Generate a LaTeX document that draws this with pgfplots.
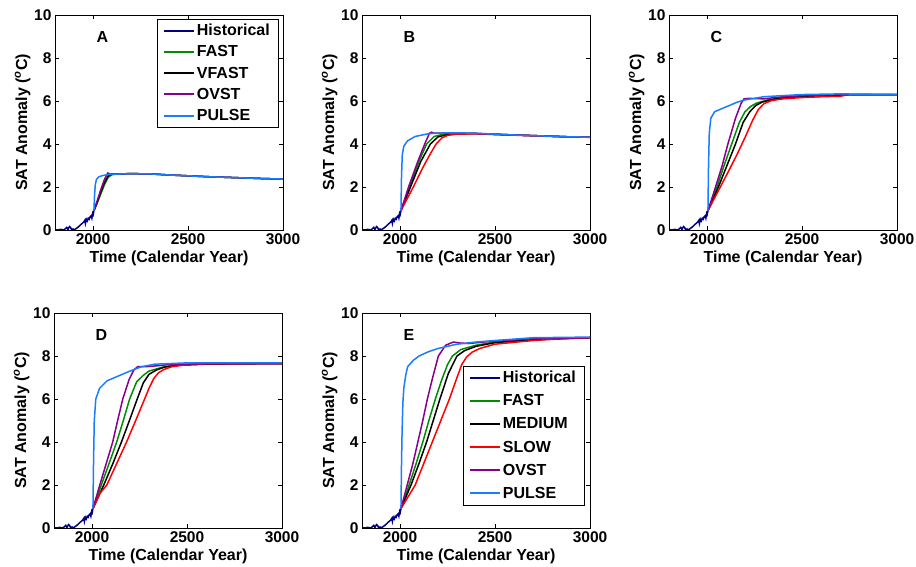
\documentclass[border=0pt]{standalone}
\usepackage{pgfplots}
\pgfplotsset{compat=1.18}
\usepackage{fontspec}
\setmainfont{Liberation Sans}

\definecolor{histc}{RGB}{0,0,130}
\definecolor{fastc}{RGB}{0,140,0}
\definecolor{ovstc}{RGB}{135,0,140}
\definecolor{pulsec}{RGB}{25,125,255}

\pgfplotsset{
  panel/.style={
    width=228bp, height=215bp, scale only axis,
    xmin=1800, xmax=3000, ymin=0, ymax=10,
    xtick={2000,2500,3000}, ytick={0,2,4,6,8,10},
    xticklabels={2000,2500,3000}, yticklabels={0,2,4,6,8,10},
    tick align=inside, major tick length=4bp,
    every tick/.style={black, line width=0.6bp},
    axis line style={line width=0.8bp},
    tick label style={font=\fontsize{15.5bp}{17bp}\selectfont\bfseries},
    label style={font=\fontsize{16bp}{18bp}\selectfont\bfseries},
    xlabel={Time (Calendar Year)},
    ylabel={SAT Anomaly (\textsuperscript{\itshape o}C)},
    xlabel style={yshift=0bp},
    ylabel style={yshift=-3bp},
    every axis plot/.append style={line width=1.5bp},
    legend cell align=left,
    legend image code/.code={\draw[#1, line width=2bp] (0bp,0bp) -- (30bp,0bp);},
    legend style={font=\fontsize{16bp}{18bp}\selectfont\bfseries,
      draw=black, inner xsep=6bp, inner ysep=3bp},
  },
}

\newcommand{\histdata}{
  (1800,0.02) (1815,0.0) (1830,0.03) (1845,0.0) (1855,0.06) (1862,0.12) (1868,0.02)
  (1876,0.16) (1882,0.12) (1888,0.0) (1895,0.05) (1902,0.0) (1910,0.06) (1920,0.12)
  (1930,0.2) (1938,0.27) (1945,0.32) (1952,0.38) (1957,0.45) (1960,0.3) (1965,0.5)
  (1970,0.42) (1975,0.55) (1980,0.5) (1985,0.62) (1990,0.66) (1994,0.55) (1998,0.78)
  (2001,0.72) (2005,0.9)
}

\begin{document}
\begin{tikzpicture}
\useasboundingbox (0,0) rectangle (916bp,567bp);

% ---------- A ----------
\begin{axis}[panel, at={(55bp,337bp)}, anchor=south west,
  legend style={at={(1,1)}, anchor=north east, xshift=-5bp, yshift=-4bp, row sep=4.5bp}]
\addplot[histc] coordinates {\histdata};
\addlegendentry{Historical}
\addplot[fastc] coordinates {(2005,0.9) (2020,1.2) (2040,1.65) (2060,2.1) (2080,2.45) (2100,2.57) (2130,2.61) (2200,2.62) (2300,2.61) (2400,2.56) (2500,2.52) (2600,2.48) (2700,2.45) (2800,2.42) (2900,2.39) (3000,2.37)};
\addlegendentry{FAST}
\addplot[black] coordinates {(2005,0.9) (2020,1.25) (2040,1.75) (2060,2.2) (2080,2.52) (2100,2.6) (2130,2.61) (2200,2.62) (2300,2.61) (2400,2.56) (2500,2.52) (2600,2.48) (2700,2.45) (2800,2.42) (2900,2.39) (3000,2.37)};
\addlegendentry{VFAST}
\addplot[ovstc] coordinates {(2005,0.9) (2020,1.3) (2040,1.85) (2060,2.35) (2078,2.65) (2090,2.6) (2110,2.6) (2150,2.61) (2200,2.62) (2300,2.61) (2400,2.56) (2500,2.52) (2600,2.48) (2700,2.45) (2800,2.42) (2900,2.39) (3000,2.37)};
\addlegendentry{OVST}
\addplot[pulsec] coordinates {(2005,0.9) (2008,1.6) (2012,2.1) (2018,2.35) (2030,2.47) (2050,2.53) (2080,2.58) (2120,2.6) (2200,2.62) (2300,2.61) (2400,2.56) (2500,2.52) (2600,2.48) (2700,2.45) (2800,2.42) (2900,2.39) (3000,2.37)};
\addlegendentry{PULSE}
\node[anchor=west, font=\fontsize{16bp}{18bp}\selectfont\bfseries] at (axis cs:2000,9) {A};
\end{axis}

% ---------- B ----------
\begin{axis}[panel, at={(362bp,337bp)}, anchor=south west]
\addplot[histc] coordinates {\histdata};
\addplot[fastc] coordinates {(2005,0.9) (2050,2.0) (2100,3.2) (2140,4.0) (2180,4.35) (2230,4.46) (2300,4.5) (2400,4.49) (2500,4.45) (2600,4.42) (2700,4.39) (2800,4.36) (2900,4.33) (3000,4.32)};
\addplot[black] coordinates {(2005,0.9) (2055,2.0) (2110,3.2) (2160,4.0) (2200,4.33) (2250,4.44) (2300,4.48) (2400,4.48) (2500,4.45) (2600,4.42) (2700,4.39) (2800,4.36) (2900,4.33) (3000,4.32)};
\addplot[red] coordinates {(2005,0.9) (2070,2.0) (2120,2.9) (2160,3.55) (2190,4.0) (2220,4.28) (2250,4.4) (2300,4.46) (2400,4.47) (2500,4.44) (2600,4.41) (2700,4.38) (2800,4.35) (2900,4.33) (3000,4.31)};
\addplot[ovstc] coordinates {(2005,0.9) (2045,2.0) (2090,3.1) (2130,4.0) (2155,4.5) (2165,4.55) (2180,4.5) (2250,4.5) (2300,4.5) (2400,4.49) (2500,4.45) (2600,4.42) (2700,4.39) (2800,4.36) (2900,4.33) (3000,4.32)};
\addplot[pulsec] coordinates {(2005,0.9) (2008,2.5) (2012,3.5) (2020,3.9) (2040,4.15) (2080,4.35) (2150,4.48) (2250,4.52) (2300,4.52) (2400,4.5) (2500,4.46) (2600,4.42) (2700,4.39) (2800,4.36) (2900,4.33) (3000,4.32)};
\node[anchor=west, font=\fontsize{16bp}{18bp}\selectfont\bfseries] at (axis cs:2000,9) {B};
\end{axis}

% ---------- C ----------
\begin{axis}[panel, at={(669bp,337bp)}, anchor=south west]
\addplot[histc] coordinates {\histdata};
\addplot[fastc] coordinates {(2005,0.9) (2052,2.0) (2090,3.0) (2130,4.0) (2170,5.0) (2200,5.5) (2230,5.75) (2260,5.9) (2320,6.05) (2400,6.15) (2500,6.2) (2600,6.22) (2700,6.25) (2750,6.3) (3000,6.3)};
\addplot[black] coordinates {(2005,0.9) (2060,2.0) (2105,3.0) (2150,4.0) (2190,5.0) (2225,5.5) (2255,5.78) (2290,5.95) (2360,6.1) (2450,6.17) (2600,6.22) (2750,6.3) (3000,6.3)};
\addplot[red] coordinates {(2005,0.9) (2070,2.0) (2120,2.85) (2160,3.55) (2200,4.3) (2240,5.1) (2270,5.6) (2300,5.88) (2340,6.02) (2400,6.1) (2500,6.16) (2600,6.2) (2700,6.22) (2750,6.3) (3000,6.3)};
\addplot[ovstc] coordinates {(2005,0.9) (2045,2.0) (2080,3.0) (2110,4.0) (2150,5.2) (2180,5.9) (2195,6.1) (2220,6.12) (2300,6.1) (2400,6.2) (2500,6.25) (2700,6.3) (3000,6.3)};
\addplot[pulsec] coordinates {(2005,0.9) (2008,3.0) (2012,4.5) (2020,5.2) (2040,5.5) (2080,5.65) (2120,5.8) (2160,5.95) (2200,6.05) (2300,6.2) (2400,6.25) (2500,6.3) (2700,6.33) (3000,6.3)};
\node[anchor=west, font=\fontsize{16bp}{18bp}\selectfont\bfseries] at (axis cs:2000,9) {C};
\end{axis}

% ---------- D ----------
\begin{axis}[panel, at={(54bp,39bp)}, anchor=south west]
\addplot[histc] coordinates {\histdata};
\addplot[fastc] coordinates {(2005,0.9) (2049,2.0) (2090,3.0) (2130,4.0) (2165,5.0) (2198,6.0) (2235,6.8) (2270,7.1) (2300,7.3) (2380,7.5) (2450,7.58) (2600,7.63) (3000,7.65)};
\addplot[black] coordinates {(2005,0.9) (2062,2.0) (2110,3.0) (2155,4.0) (2197,5.0) (2238,6.0) (2270,6.75) (2300,7.15) (2340,7.35) (2380,7.48) (2450,7.57) (2600,7.62) (3000,7.65)};
\addplot[red] coordinates {(2005,0.9) (2041,1.6) (2078,2.0) (2130,3.0) (2182,4.0) (2230,5.0) (2277,6.0) (2300,6.5) (2325,6.95) (2350,7.22) (2380,7.38) (2420,7.5) (2500,7.6) (2600,7.63) (3000,7.65)};
\addplot[ovstc] coordinates {(2005,0.9) (2041,2.0) (2075,3.0) (2109,4.0) (2135,5.0) (2162,6.0) (2195,6.9) (2220,7.35) (2240,7.5) (2280,7.5) (2350,7.55) (2400,7.6) (2600,7.64) (3000,7.65)};
\addplot[pulsec] coordinates {(2005,0.9) (2008,3.0) (2012,5.0) (2020,6.0) (2040,6.5) (2080,6.85) (2120,7.0) (2160,7.15) (2200,7.3) (2260,7.5) (2330,7.62) (2500,7.68) (3000,7.68)};
\node[anchor=west, font=\fontsize{16bp}{18bp}\selectfont\bfseries] at (axis cs:2000,9) {D};
\end{axis}

% ---------- E ----------
\begin{axis}[panel, at={(362bp,39bp)}, anchor=south west,
  legend style={at={(1,0)}, anchor=south east, xshift=-6bp, yshift=23bp, row sep=6.5bp}]
\addplot[histc] coordinates {\histdata};
\addlegendentry{Historical}
\addplot[fastc] coordinates {(2005,0.9) (2048,2.0) (2085,3.0) (2120,4.0) (2152,5.0) (2186,6.0) (2220,6.9) (2250,7.6) (2276,8.0) (2320,8.3) (2400,8.5) (2500,8.65) (2700,8.78) (3000,8.85)};
\addlegendentry{FAST}
\addplot[black] coordinates {(2005,0.9) (2058,2.0) (2100,3.0) (2140,4.0) (2175,5.0) (2210,6.0) (2255,7.2) (2300,8.0) (2340,8.25) (2400,8.45) (2500,8.62) (2700,8.76) (3000,8.85)};
\addlegendentry{MEDIUM}
\addplot[red] coordinates {(2005,0.9) (2080,2.0) (2125,3.0) (2170,4.0) (2215,5.0) (2260,6.0) (2300,7.0) (2325,7.6) (2350,7.95) (2380,8.18) (2420,8.35) (2500,8.55) (2700,8.72) (2850,8.8) (3000,8.85)};
\addlegendentry{SLOW}
\addplot[ovstc] coordinates {(2005,0.9) (2038,2.0) (2068,3.0) (2094,4.0) (2120,5.0) (2144,6.0) (2172,7.0) (2202,8.0) (2240,8.5) (2281,8.65) (2320,8.6) (2360,8.58) (2500,8.7) (2700,8.8) (3000,8.85)};
\addlegendentry{OVST}
\addplot[pulsec] coordinates {(2005,0.9) (2008,3.0) (2011,4.5) (2015,5.8) (2020,6.5) (2030,7.1) (2040,7.5) (2070,7.8) (2100,8.0) (2150,8.2) (2200,8.35) (2300,8.55) (2400,8.65) (2500,8.72) (2700,8.85) (3000,8.88)};
\addlegendentry{PULSE}
\node[anchor=west, font=\fontsize{16bp}{18bp}\selectfont\bfseries] at (axis cs:2000,9) {E};
\end{axis}
\end{tikzpicture}
\end{document}
